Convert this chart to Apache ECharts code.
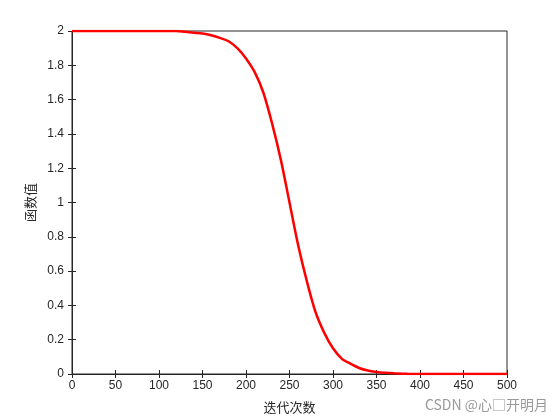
<!DOCTYPE html>
<html><head><meta charset="utf-8">
<script src="https://cdn.jsdelivr.net/npm/echarts@6/dist/echarts.min.js"></script>
<style>html,body{margin:0;background:#fff}#c{width:560px;height:420px}</style>
</head><body><div id="c"></div>
<script>
// 迭代次数 与 函数值
const iters = [];
for (let i = 0; i <= 500; i += 10) iters.push(i);
const values = [2,2,2,2,2,2,2,2,2,2,2,2,2,
  1.995,1.99,1.985,1.975,1.96,1.94,1.90,1.84,1.76,1.64,1.46,1.25,1.00,
  0.75,0.54,0.36,0.24,0.15,0.09,0.06,0.035,0.02,0.012,0.007,0.004,0.002,
  0,0,0,0,0,0,0,0,0,0,0,0];

const chart = echarts.init(document.getElementById('c'));
const lineC = '#262626';
const lab = { color: '#262626', fontSize: 12, fontFamily: 'Arial, Liberation Sans' };
chart.setOption({
  animation: false,
  grid: { left: 72, right: 53, top: 31, bottom: 46, show: true, borderColor: lineC, borderWidth: 1 },
  xAxis: [{
    type: 'value', min: 0, max: 500, interval: 50,
    name: '迭代次数', nameLocation: 'middle', nameGap: 27,
    nameTextStyle: { color: '#262626', fontSize: 13, fontFamily: 'Noto Sans CJK SC' },
    axisLine: { lineStyle: { color: lineC } },
    axisTick: { inside: true, length: 4, lineStyle: { color: lineC } },
    axisLabel: Object.assign({ margin: 6 }, lab),
    splitLine: { show: false }
  }, {
    type: 'value', position: 'top', min: 0, max: 500, interval: 50,
    axisLine: { lineStyle: { color: lineC } },
    axisTick: { inside: true, length: 4, lineStyle: { color: lineC } },
    axisLabel: { show: false }, splitLine: { show: false }
  }],
  yAxis: [{
    type: 'value', min: 0, max: 2, interval: 0.2,
    name: '函数值', nameLocation: 'middle', nameGap: 34,
    nameTextStyle: { color: '#262626', fontSize: 13, fontFamily: 'Noto Sans CJK SC' },
    axisLine: { lineStyle: { color: lineC } },
    axisTick: { inside: true, length: 4, lineStyle: { color: lineC } },
    axisLabel: Object.assign({ margin: 8, formatter: v => String(+v.toFixed(1)) }, lab),
    splitLine: { show: false }
  }, {
    type: 'value', position: 'right', min: 0, max: 2, interval: 0.2,
    axisLine: { lineStyle: { color: lineC } },
    axisTick: { inside: true, length: 4, lineStyle: { color: lineC } },
    axisLabel: { show: false }, splitLine: { show: false }
  }],
  series: [{
    type: 'line', smooth: 0.3, symbol: 'none',
    data: iters.map((x, i) => [x, values[i]]),
    lineStyle: { color: '#ff0000', width: 2.5 }
  }],
  graphic: [{
    type: 'text', right: 12, bottom: 8,
    style: { text: 'CSDN @心\u25A1开明月', fill: '#999', fontSize: 14, fontFamily: 'Noto Sans CJK SC' }
  }]
});
</script></body></html>
